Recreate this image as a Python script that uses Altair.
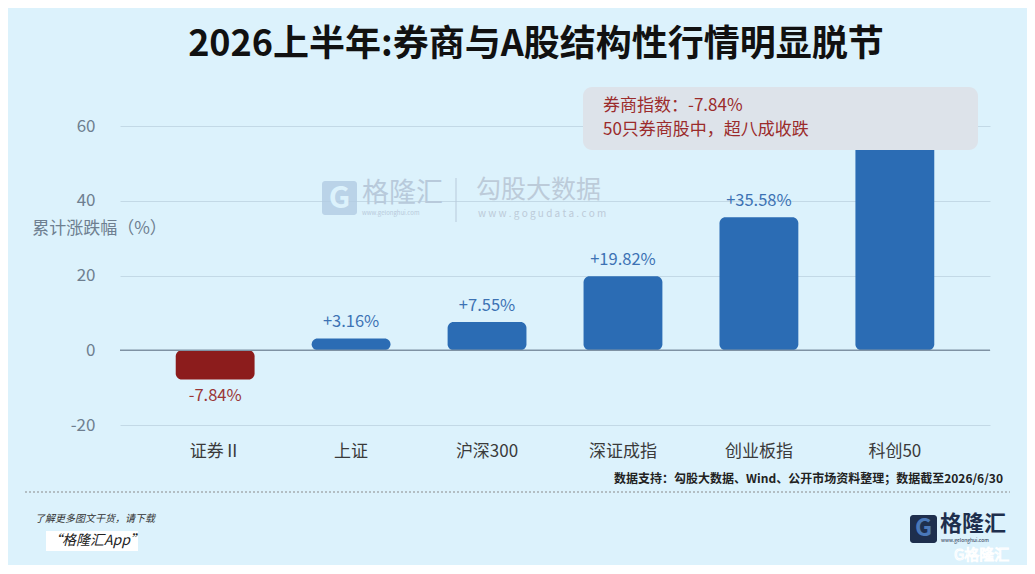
import altair as alt
import pandas as pd

categories = ["证券Ⅱ", "上证", "沪深300", "深证成指", "创业板指", "科创50"]
values = [-7.84, 3.16, 7.55, 19.82, 35.58, 58.0]
y_ticks = [-20, 0, 20, 40, 60]

TITLE = "2026上半年:券商与A股结构性行情明显脱节"
BOX_LINES = ["券商指数：-7.84%", "50只券商股中，超八成收跌"]
SOURCE = "数据支持：勾股大数据、Wind、公开市场资料整理；数据截至2026/6/30"

df = pd.DataFrame({"cat": categories, "value": values})
df["label"] = [f"{v:+.2f}%" for v in values]

FONT = "Noto Sans CJK SC"
BG = "#dcf2fc"
BLUE = "#2b6cb4"
RED = "#8c1c1c"
W, H = 870, 299

x_enc = alt.X("cat:N", sort=categories, title=None,
              scale=alt.Scale(paddingInner=0.42, paddingOuter=0.41),
              axis=alt.Axis(labelFontSize=17, labelColor="#3a3a3a", labelFont=FONT,
                            labelPadding=18, ticks=False, domain=False, labelAngle=0))
y_enc = alt.Y("value:Q", title="累计涨跌幅（%）",
              scale=alt.Scale(domain=[-20, 60], nice=False, zero=False),
              axis=alt.Axis(values=y_ticks, labelExpr="'' + datum.value",
                            labelFontSize=17, labelColor="#6e7f90",
                            labelFont=FONT, labelPadding=25, ticks=False, domain=False,
                            grid=True, gridColor="#c3d9e6", gridWidth=1.2,
                            titleAngle=0, titleX=-21, titleY=102, titleAlign="center",
                            titleBaseline="middle", titleColor="#6e7f90", titleFontSize=17,
                            titleFont=FONT, titleFontWeight="normal"))

base = alt.Chart(df)

bars = base.mark_bar(cornerRadius=6).encode(
    x=x_enc, y=y_enc, y2=alt.datum(0),
    color=alt.condition(alt.datum.value < 0, alt.value(RED), alt.value(BLUE)),
)

zero = alt.Chart(pd.DataFrame({"z": [0]})).mark_rule(color="#7f92a3", strokeWidth=1.5).encode(
    y=alt.Y("z:Q", scale=alt.Scale(domain=[-20, 60], nice=False, zero=False)),
    x=alt.value(0), x2=alt.value(W),
)

pos_lab = base.transform_filter(alt.datum.value >= 0).mark_text(
    font=FONT, fontSize=16.5, color="#3d72b4", baseline="bottom", dy=-8
).encode(x=alt.X("cat:N", sort=categories), y="value:Q", text="label:N")

neg_lab = base.transform_filter(alt.datum.value < 0).mark_text(
    font=FONT, fontSize=16.5, color="#9a3636", baseline="top", dy=8
).encode(x=alt.X("cat:N", sort=categories), y="value:Q", text="label:N")


def txt(s, x, y, **kw):
    return alt.Chart(pd.DataFrame({"t": [s]})).mark_text(font=FONT, **kw).encode(
        x=alt.value(x), y=alt.value(y), text="t:N")


title = txt(TITLE, 416, -81, fontSize=36, fontWeight="bold", color="#111111", align="center",
            baseline="middle")

box = alt.Chart(pd.DataFrame({"a": [0]})).mark_rect(
    cornerRadius=9, color="#dde3ea", opacity=1
).encode(x=alt.value(463), x2=alt.value(858), y=alt.value(-39), y2=alt.value(24))
box1 = txt(BOX_LINES[0], 483, -20, fontSize=17, color="#9b2b2b", align="left", baseline="middle")
box2 = txt(BOX_LINES[1], 483, 4, fontSize=17, color="#9b2b2b", align="left", baseline="middle")

# watermark
wm_g = alt.Chart(pd.DataFrame({"a": [0]})).mark_rect(
    cornerRadius=3, color="#b2cbe2", opacity=0.8
).encode(x=alt.value(202), x2=alt.value(237), y=alt.value(55), y2=alt.value(89))
wm_g2 = txt("G", 219.5, 73, fontSize=30, fontWeight="bold", color=BG, align="center",
            baseline="middle")
wm1 = txt("格隆汇", 242, 68, fontSize=27, color="#b8cadb", align="left", baseline="middle")
wm1b = txt("www.gelonghui.com", 242, 87, fontSize=6, color="#b8cadb", align="left",
           baseline="middle")
wm_sep = alt.Chart(pd.DataFrame({"a": [0]})).mark_rule(color="#b8cadb").encode(
    x=alt.value(336), y=alt.value(52), y2=alt.value(96))
wm2 = txt("勾股大数据", 356, 64, fontSize=25, color="#bccbd9", align="left", baseline="middle")
wm2b = txt("w w w . g o g u d a t a . c o m", 358, 88, fontSize=10, color="#bccbd9",
           align="left", baseline="middle")

src = txt(SOURCE, 883, 353, fontSize=12, fontWeight="bold", color="#222222", align="right",
          baseline="middle")
dash = alt.Chart(pd.DataFrame({"a": [0]})).mark_rule(
    color="#8a8a8a", strokeDash=[2, 2], strokeWidth=1
).encode(x=alt.value(-95), x2=alt.value(890), y=alt.value(366))
f1 = txt("了解更多图文干货，请下载", -85, 393, fontSize=10, fontStyle="italic", color="#333333",
         align="left", baseline="middle")
f2bg = alt.Chart(pd.DataFrame({"a": [0]})).mark_rect(color="#ffffff").encode(
    x=alt.value(-74), x2=alt.value(18), y=alt.value(405), y2=alt.value(425))
f2 = txt("“格隆汇App”", -72, 415, fontSize=14, fontStyle="italic", color="#222222",
         align="left", baseline="middle")

logo_g = alt.Chart(pd.DataFrame({"a": [0]})).mark_rect(
    cornerRadius=3, color="#1e2f4d"
).encode(x=alt.value(790), x2=alt.value(817), y=alt.value(389), y2=alt.value(417))
logo_g2 = txt("G", 803.5, 403, fontSize=24, fontWeight="bold", color="#4a78b8", align="center",
              baseline="middle")
logo_t = txt("格隆汇", 820, 398, fontSize=22, fontWeight="bold", color="#1e2f4d", align="left",
             baseline="middle")
logo_u = txt("www.gelonghui.com", 821, 414, fontSize=5, color="#1e2f4d", align="left",
             baseline="middle")
logo_w = alt.Chart(pd.DataFrame({"t": ["G格隆汇"]})).mark_text(
    font=FONT, fontSize=15, fill="#dcf2fc", stroke="#ffffff", strokeWidth=1, align="left",
    baseline="middle"
).encode(x=alt.value(834), y=alt.value(429), text="t:N")

chart = alt.layer(
    wm_g, wm_g2, wm1, wm1b, wm_sep, wm2, wm2b,
    bars, zero, pos_lab, neg_lab,
    box, box1, box2, title,
    src, dash, f1, f2bg, f2, logo_g, logo_g2, logo_t, logo_u, logo_w,
).properties(
    width=W, height=H,
    autosize=alt.AutoSizeParams(type="none"),
    padding={"left": 112, "top": 118, "right": 37, "bottom": 140},
    background=BG,
).configure_view(stroke=None)

chart.save("out.html", embed_options={"renderer": "svg", "actions": False})
